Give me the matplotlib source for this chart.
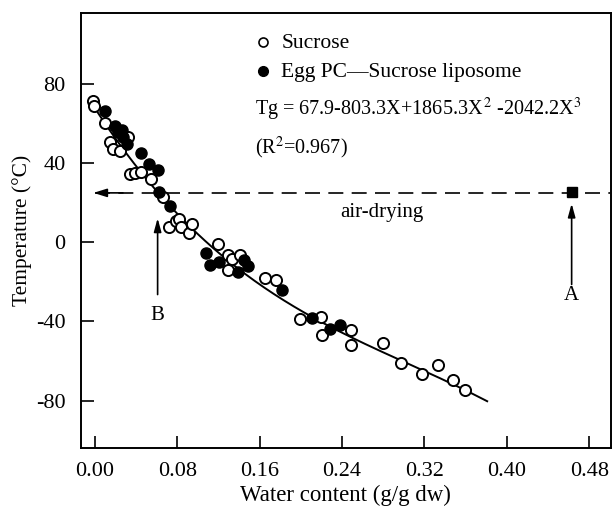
import numpy as np
import matplotlib
matplotlib.use('Agg')
import matplotlib.pyplot as plt

plt.rcParams['font.family'] = ['Liberation Serif', 'DejaVu Serif']
plt.rcParams['mathtext.fontset'] = 'stix'
plt.rcParams['axes.unicode_minus'] = False

# Sucrose (open circles)
suc_x = [-0.002, -0.001, 0.010, 0.015, 0.018, 0.024, 0.032, 0.034, 0.039, 0.045,
         0.055, 0.066, 0.072, 0.079, 0.082, 0.084, 0.091, 0.094, 0.120, 0.129,
         0.133, 0.141, 0.129, 0.165, 0.176, 0.199, 0.220, 0.221, 0.249, 0.249,
         0.280, 0.297, 0.318, 0.333, 0.348, 0.359]
suc_t = [71.4, 68.7, 60.3, 50.7, 47.3, 46.0, 53.0, 34.7, 35.0, 35.5,
         32.2, 22.9, 7.5, 11.0, 12.0, 7.7, 4.5, 9.5, -0.7, -6.6,
         -8.2, -6.6, -14.0, -17.8, -19.0, -39.0, -38.0, -46.6, -44.4, -52.0,
         -50.8, -61.0, -66.7, -62.0, -69.7, -74.7]

# Egg PC - sucrose liposome (filled circles)
lip_x = [0.010, 0.020, 0.026, 0.023, 0.027, 0.031, 0.045, 0.053, 0.061, 0.062,
         0.073, 0.108, 0.112, 0.121, 0.139, 0.145, 0.149, 0.182, 0.211, 0.228, 0.238]
lip_t = [66.3, 58.6, 56.9, 55.7, 53.0, 49.8, 45.0, 39.7, 36.4, 25.4,
         18.2, -5.2, -11.6, -10.0, -15.0, -9.1, -12.0, -23.9, -38.5, -43.6, -41.9]

# fitted polynomial printed on the chart
coef = [67.9, -803.3, 1865.3, -2042.2]
fit_range = (0.0, 0.381)

air_dry_t = 25
point_a = (0.463, 25.3)

xticks = [0.00, 0.08, 0.16, 0.24, 0.32, 0.40, 0.48]
yticks = [80, 40, 0, -40, -80]

fig = plt.figure(figsize=(6.12, 5.15), dpi=100)
ax = fig.add_axes([0.132, 0.130, 0.866, 0.845])

xf = np.linspace(fit_range[0], fit_range[1], 200)
yf = coef[0] + coef[1] * xf + coef[2] * xf**2 + coef[3] * xf**3
ax.plot(xf, yf, color='black', lw=1.4, zorder=2)

ax.plot(suc_x, suc_t, 'o', mfc='white', mec='black', mew=1.4, ms=8, zorder=3)
ax.plot(lip_x, lip_t, 'o', mfc='black', mec='black', ms=8, zorder=4)

# air-drying line
ax.plot([0.0, 0.50], [air_dry_t, air_dry_t], color='black', lw=1.2,
        dashes=(9, 5), zorder=1)
ax.annotate('', xy=(-0.004, air_dry_t), xytext=(0.03, air_dry_t),
            arrowprops=dict(arrowstyle='-|>,head_length=0.8,head_width=0.25',
                            color='black', lw=1.2))
ax.text(0.238, 15, 'air-drying', fontsize=15, va='center', ha='left')
ax.plot([point_a[0]], [point_a[1]], 's', color='black', ms=6.5, zorder=5)

# arrows A and B
ax.annotate('', xy=(point_a[0], 21.0), xytext=(point_a[0], -22.7),
            arrowprops=dict(arrowstyle='-|>,head_length=0.8,head_width=0.22',
                            color='black', lw=1.2))
ax.text(point_a[0], -27, 'A', fontsize=15, ha='center', va='center')
ax.annotate('', xy=(0.061, 13.6), xytext=(0.061, -27.8),
            arrowprops=dict(arrowstyle='-|>,head_length=0.8,head_width=0.22',
                            color='black', lw=1.2))
ax.text(0.061, -37, 'B', fontsize=15, ha='center', va='center')

# legend-like annotations
ax.plot([0.163], [101.5], 'o', mfc='white', mec='black', mew=1.2, ms=6.5, clip_on=False)
ax.text(0.181, 100.5, 'Sucrose', fontsize=15.5, va='center')
ax.plot([0.163], [86.5], 'o', color='black', ms=7, clip_on=False)
ax.text(0.181, 86, 'Egg PC\u2014Sucrose liposome', fontsize=15.5, va='center')
ax.text(0.156, 67, r'Tg = 67.9-803.3X+1865.3X$^{\,2}$ -2042.2X$^{3}$',
        fontsize=14.5, va='center')
ax.text(0.156, 47.5, r'(R$^{2}$=0.967)', fontsize=14.5, va='center')

ax.set_xlim(-0.0136, 0.501)
ax.set_ylim(-104, 116)
ax.set_xticks(xticks)
ax.set_xticklabels(['%.2f' % v for v in xticks])
ax.set_yticks(yticks)
ax.tick_params(direction='in', length=9, width=1.2, labelsize=16, pad=10)
ax.tick_params(axis='y', pad=11)
for s in ax.spines.values():
    s.set_linewidth(1.4)

ax.set_xlabel('Water content (g/g dw)', fontsize=16.5, labelpad=3)
ax.set_ylabel('Temperature (\u00b0C)', fontsize=15.5, labelpad=3)

fig.savefig('out.png', dpi=100)
